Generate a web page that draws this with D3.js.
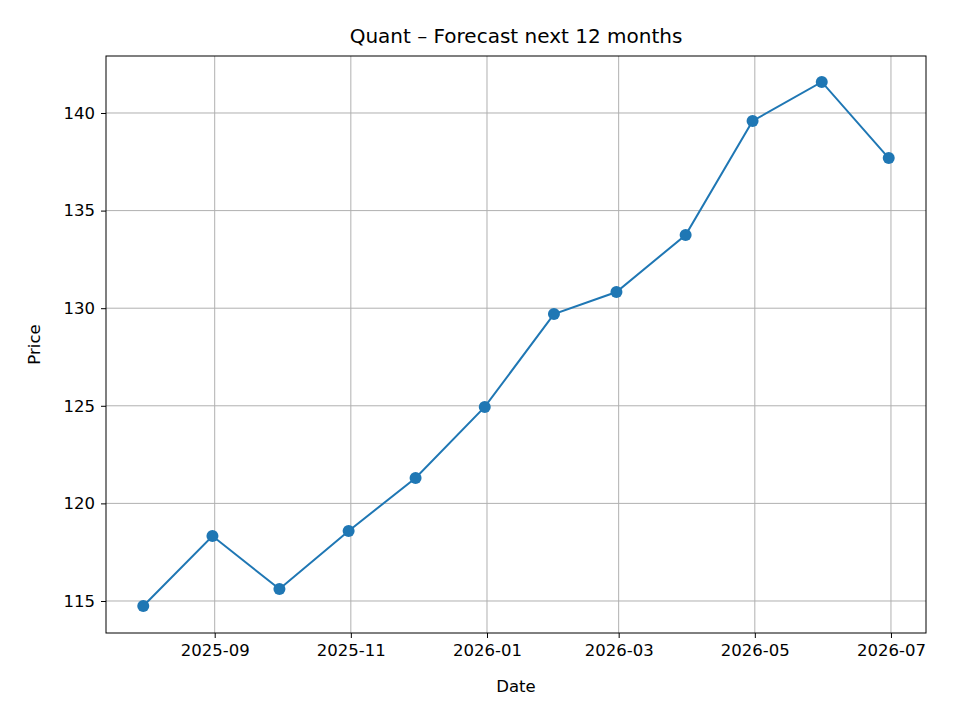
<!DOCTYPE html>
<html><head><meta charset="utf-8">
<script src="https://cdn.jsdelivr.net/npm/d3@7"></script>
<style>body{margin:0;background:#fff}text{font-family:"DejaVu Sans",sans-serif}</style>
</head><body><svg id="c" width="960" height="720"></svg>
<script>
const dates = ["2025-07-31","2025-08-31","2025-09-30","2025-10-31","2025-11-30","2025-12-31",
  "2026-01-31","2026-02-28","2026-03-31","2026-04-30","2026-05-31","2026-06-30"];
const prices = [114.74, 118.33, 115.61, 118.59, 121.30, 124.94, 129.70, 130.83, 133.75, 139.59, 141.59, 137.69];
const xTicks = ["2025-09-01","2025-11-01","2026-01-01","2026-03-01","2026-05-01","2026-07-01"];
const yTicks = [115, 120, 125, 130, 135, 140];

const parse = d3.utcParse("%Y-%m-%d");
const data = dates.map((d, i) => ({ date: parse(d), price: prices[i] }));
const svg = d3.select("#c");
const m = { l: 106, r: 926, t: 56, b: 633 };

const t0 = data[0].date, t1 = data[data.length - 1].date;
const pad = (t1 - t0) * 0.05;
const x = d3.scaleUtc().domain([new Date(+t0 - pad), new Date(+t1 + pad)]).range([m.l, m.r]);
const y = d3.scaleLinear().domain([113.36, 142.92]).range([m.b, m.t]);

// grid
svg.append("g").selectAll("line").data(xTicks.map(parse)).join("line")
  .attr("x1", d => x(d)).attr("x2", d => x(d)).attr("y1", m.t).attr("y2", m.b)
  .attr("stroke", "#b0b0b0").attr("stroke-width", 1);
svg.append("g").selectAll("line").data(yTicks).join("line")
  .attr("y1", d => y(d)).attr("y2", d => y(d)).attr("x1", m.l).attr("x2", m.r)
  .attr("stroke", "#b0b0b0").attr("stroke-width", 1);

// axes
svg.append("g").attr("transform", `translate(0,${m.b})`)
  .call(d3.axisBottom(x).tickValues(xTicks.map(parse)).tickFormat(d3.utcFormat("%Y-%m")).tickSizeOuter(0).tickSize(5).tickPadding(6))
  .call(g => g.select(".domain").remove())
  .selectAll("text").style("font-size", "16.5px").attr("fill", "#000");
svg.append("g").attr("transform", `translate(${m.l},0)`)
  .call(d3.axisLeft(y).tickValues(yTicks).tickSizeOuter(0).tickSize(5).tickPadding(6))
  .call(g => g.select(".domain").remove())
  .selectAll("text").style("font-size", "16.5px").attr("fill", "#000");

svg.append("rect").attr("x", m.l).attr("y", m.t).attr("width", m.r - m.l).attr("height", m.b - m.t)
  .attr("fill", "none").attr("stroke", "#000").attr("stroke-width", 1);

// line + markers
svg.append("path").datum(data)
  .attr("d", d3.line().x(d => x(d.date)).y(d => y(d.price)))
  .attr("fill", "none").attr("stroke", "#1f77b4").attr("stroke-width", 2);
svg.append("g").selectAll("circle").data(data).join("circle")
  .attr("cx", d => x(d.date)).attr("cy", d => y(d.price)).attr("r", 6).attr("fill", "#1f77b4");

// labels
svg.append("text").attr("x", (m.l + m.r) / 2).attr("y", 43).attr("text-anchor", "middle")
  .style("font-size", "20px").text("Quant – Forecast next 12 months");
svg.append("text").attr("x", (m.l + m.r) / 2).attr("y", 692).attr("text-anchor", "middle")
  .style("font-size", "16.5px").text("Date");
svg.append("text").attr("transform", `translate(40,${(m.t + m.b) / 2}) rotate(-90)`).attr("text-anchor", "middle")
  .style("font-size", "16.5px").text("Price");
</script></body></html>
